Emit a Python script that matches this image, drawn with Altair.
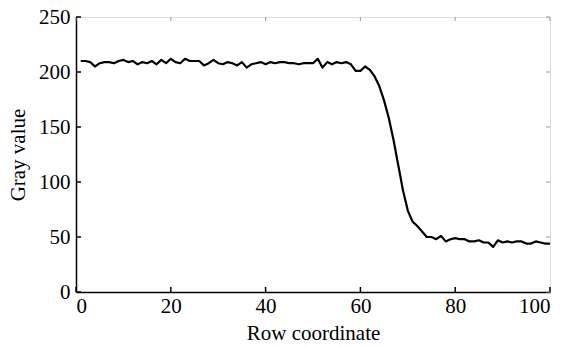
import altair as alt
import pandas as pd

rows = list(range(1, 101))
gray = [210, 210, 209, 205, 208, 209, 209, 208, 210, 211,
        209, 210, 207, 209, 208, 210, 207, 211, 208, 212,
        209, 208, 212, 210, 210, 210, 206, 208, 211, 208,
        207, 209, 208, 206, 209, 204, 207, 208, 209, 207,
        209, 208, 209, 209, 208, 208, 207, 208, 208, 208,
        212, 204, 209, 207, 209, 208, 209, 207, 201, 201,
        205, 202, 196, 187, 174, 158, 138, 115, 92, 74,
        64, 60, 55, 50, 50, 48, 51, 46, 48, 49,
        48, 48, 46, 46, 47, 45, 45, 41, 47, 45,
        46, 45, 46, 46, 44, 44, 46, 45, 44, 44]

x_ticks = [0, 20, 40, 60, 80, 100]
y_ticks = [0, 50, 100, 150, 200, 250]

df = pd.DataFrame({"row": rows, "gray": gray})
xt = pd.DataFrame({"t": x_ticks})
yt = pd.DataFrame({"t": y_ticks})

FONT = "Liberation Serif"
FS = 21
xs = alt.Scale(domain=[0, 100], nice=False, zero=False)
ys = alt.Scale(domain=[0, 250], nice=False, zero=False)

line = alt.Chart(df).mark_line(color="black", strokeWidth=2.2, strokeJoin="round").encode(
    x=alt.X("row:Q", scale=xs, title="Row coordinate",
            axis=alt.Axis(values=x_ticks, ticks=False, grid=False, domainColor="black",
                          domainWidth=1.5, labelFont=FONT, labelFontSize=FS, labelColor="black",
                          labelPadding=3, titleFont=FONT, titleFontSize=FS, titleFontWeight="normal",
                          titleColor="black", titlePadding=6)),
    y=alt.Y("gray:Q", scale=ys, title="Gray value",
            axis=alt.Axis(values=y_ticks, ticks=False, grid=False, domainColor="black",
                          domainWidth=1.5, labelFont=FONT, labelFontSize=FS, labelColor="black",
                          labelPadding=6, titleFont=FONT, titleFontSize=FS, titleFontWeight="normal",
                          titleColor="black", titlePadding=10)),
)

bottom_ticks = alt.Chart(xt).mark_rule(color="black", strokeWidth=1.5).encode(
    x=alt.X("t:Q", scale=xs), y=alt.value(275), y2=alt.value(270))
top_ticks = alt.Chart(xt).mark_rule(color="#999999", strokeWidth=1).encode(
    x=alt.X("t:Q", scale=xs), y=alt.value(0), y2=alt.value(4))
left_ticks = alt.Chart(yt).mark_rule(color="black", strokeWidth=1.5).encode(
    y=alt.Y("t:Q", scale=ys), x=alt.value(0), x2=alt.value(5))
right_ticks = alt.Chart(yt).mark_rule(color="#999999", strokeWidth=1).encode(
    y=alt.Y("t:Q", scale=ys), x=alt.value(474), x2=alt.value(470))

chart = alt.layer(line, bottom_ticks, top_ticks, left_ticks, right_ticks).properties(
    width=474, height=275,
    autosize=alt.AutoSizeParams(type="none"),
    padding={"left": 76, "top": 17, "right": 18, "bottom": 55},
).configure_view(stroke="#666666", strokeWidth=1.5).configure(background="white")

chart.save("out.html", embed_options={"renderer": "svg", "actions": False})
